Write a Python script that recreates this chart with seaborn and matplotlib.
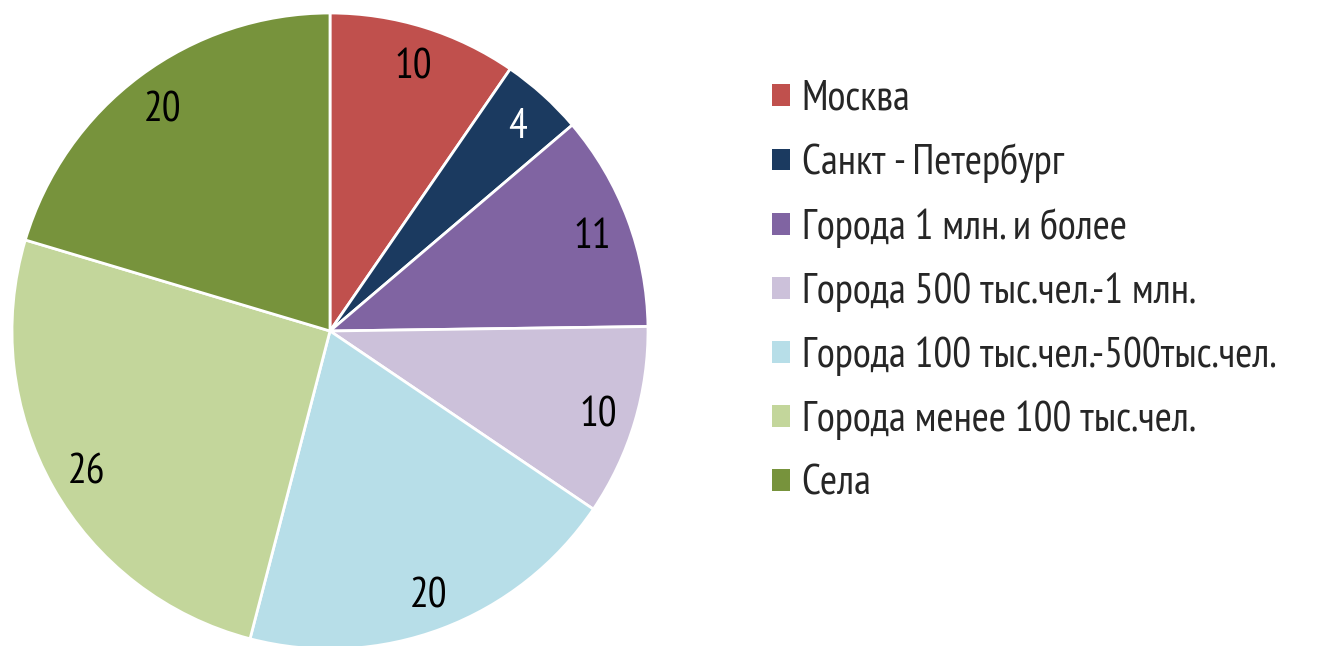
import matplotlib
matplotlib.use("Agg")
import matplotlib.pyplot as plt
import seaborn as sns
from matplotlib.patches import Patch

# данные (доли, %), подписи - округлённые значения
categories = ['Москва', 'Санкт - Петербург', 'Города 1 млн. и более',
              'Города 500 тыс.чел.-1 млн.', 'Города 100 тыс.чел.-500тыс.чел.',
              'Города менее 100 тыс.чел.', 'Села']
values = [9.6, 4.2, 11.0, 9.7, 19.6, 25.6, 20.4]
colors = ['#C0504D', '#1B3A60', '#8064A2', '#CCC1DA', '#B7DEE8', '#C3D69B', '#77933C']
label_colors = ['black', 'white', 'black', 'black', 'black', 'black', 'black']

sns.set_theme(style="white")
plt.rcParams['font.family'] = ['PT Sans Narrow', 'Roboto Condensed', 'DejaVu Sans']

W, H = 1326, 646
fig = plt.figure(figsize=(W / 100, H / 100), dpi=100)

# центр круга (330, 331) px, радиус 318 px
cx, cy, r = 330, 331, 318
ax = fig.add_axes([(cx - r) / W, (H - cy - r) / H, 2 * r / W, 2 * r / H])

wedges, texts = ax.pie(values, colors=colors, startangle=90, counterclock=False,
                       labels=[f"{v:.0f}" for v in values], labeldistance=0.88,
                       wedgeprops=dict(edgecolor='white', linewidth=2),
                       textprops=dict(fontsize=30))
for t, c in zip(texts, label_colors):
    t.set_color(c)
    t.set_ha('center')
    t.set_va('center_baseline')
ax.set_xlim(-1, 1)
ax.set_ylim(-1, 1)
ax.set_aspect('equal')
ax.axis('off')

handles = [Patch(facecolor=c, edgecolor='none') for c in colors]
fig.legend(handles, categories, loc='upper left',
           bbox_to_anchor=(772 / W, 1 - 80 / H), frameon=False,
           fontsize=30, handlelength=0.43, handleheight=0.43,
           handletextpad=0.28, labelspacing=0.59, borderpad=0,
           borderaxespad=0)

fig.savefig('out.png', dpi=100)
